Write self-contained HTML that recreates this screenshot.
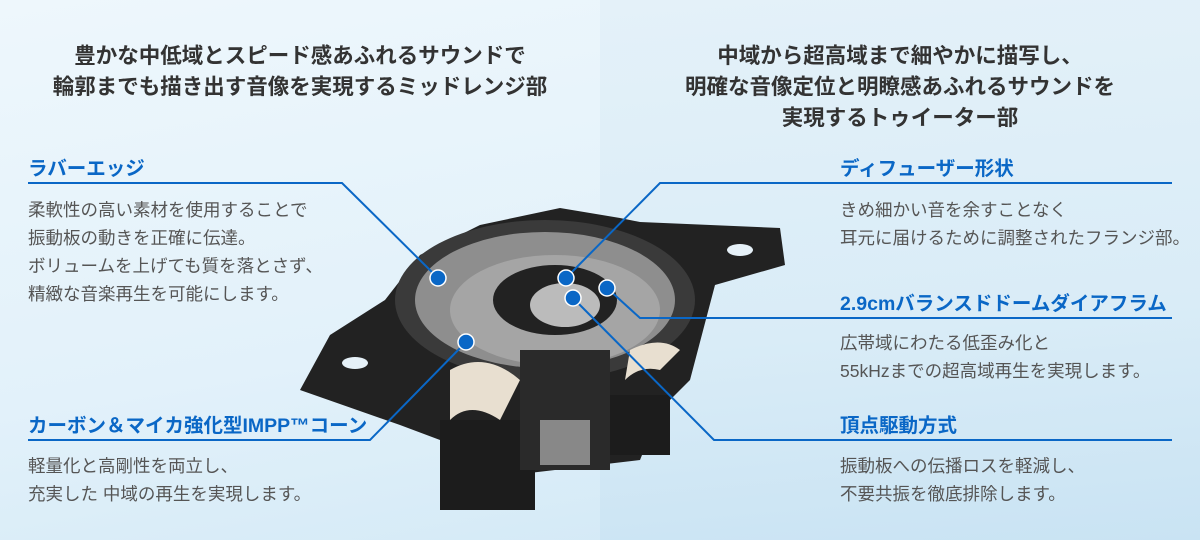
<!DOCTYPE html>
<html><head><meta charset="utf-8"><style>
body{margin:0;width:1200px;height:540px;overflow:hidden;font-family:"Liberation Sans","Noto Sans CJK JP",sans-serif;}
#bg{position:absolute;left:0;top:0;width:1200px;height:540px;background:linear-gradient(170deg,#eef7fc 0%,#e2f1fa 55%,#cfe7f5 100%);}
#rp{position:absolute;left:600px;top:0;width:600px;height:540px;background:linear-gradient(175deg,#e4f1f9 0%,#d9ecf7 60%,#c9e3f3 100%);}
.h{position:absolute;color:#333;font-weight:bold;font-size:21.5px;line-height:31px;text-align:center;}
.t{position:absolute;color:#0a67c6;font-weight:bold;font-size:19.5px;line-height:24px;}
.b{position:absolute;color:#555;font-size:17.5px;line-height:28px;}
svg{position:absolute;left:0;top:0}
</style></head><body>
<div id="bg"></div><div id="rp"></div>
<div class="h" style="left:0;width:600px;top:41px">豊かな中低域とスピード感あふれるサウンドで<br>輪郭までも描き出す音像を実現するミッドレンジ部</div>
<div class="h" style="left:600px;width:600px;top:41px">中域から超高域まで細やかに描写し、<br>明確な音像定位と明瞭感あふれるサウンドを<br>実現するトゥイーター部</div>
<svg width="1200" height="540">
<path d="M300,390 L330,335 L385,300 L420,255 L480,225 L560,208 L620,218 L640,222 L780,228 L785,265 L715,285 L690,380 L660,410 L640,460 L470,480 L440,440 L400,425 Z" fill="#222"/>
<ellipse cx="545" cy="300" rx="150" ry="80" fill="#3a3a3a"/>
<ellipse cx="545" cy="300" rx="130" ry="68" fill="#8e8e8e"/>
<ellipse cx="555" cy="310" rx="105" ry="55" fill="#a5a5a5"/>
<ellipse cx="555" cy="300" rx="62" ry="35" fill="#222"/>
<ellipse cx="565" cy="305" rx="35" ry="22" fill="#bbb"/>
<ellipse cx="740" cy="250" rx="13" ry="6" fill="#e6f1f8"/>
<ellipse cx="355" cy="363" rx="13" ry="6" fill="#e6f1f8"/>
<path d="M450,370 Q485,350 520,380 L500,420 Q470,400 450,420 Z" fill="#e8dfd0"/>
<path d="M630,350 Q660,335 680,350 L660,370 Q640,365 625,380 Z" fill="#e8dfd0"/>
<rect x="440" y="420" width="95" height="90" fill="#1c1c1c"/>
<rect x="600" y="395" width="70" height="60" fill="#1c1c1c"/>
<rect x="520" y="350" width="90" height="120" fill="#2a2a2a"/>
<rect x="540" y="420" width="50" height="45" fill="#888"/>
<g stroke="#0a67c6" stroke-width="2" fill="none">
<polyline points="28,183 342,183 438,278"/>
<polyline points="28,440 370,440 466,342"/>
<polyline points="1172,183 660,183 566,278"/>
<polyline points="1172,318 640,318 607,288"/>
<polyline points="1172,440 714,440 573,298"/>
</g>
<g fill="#0a67c6" stroke="#fff" stroke-width="1.5">
<circle cx="438" cy="278" r="8"/><circle cx="466" cy="342" r="8"/>
<circle cx="566" cy="278" r="8"/><circle cx="607" cy="288" r="8"/><circle cx="573" cy="298" r="8"/>
</g>
</svg>
<div class="t" style="left:28px;top:157px">ラバーエッジ</div>
<div class="b" style="left:28px;top:196px">柔軟性の高い素材を使用することで<br>振動板の動きを正確に伝達。<br>ボリュームを上げても質を落とさず、<br>精緻な音楽再生を可能にします。</div>
<div class="t" style="left:28px;top:414px">カーボン＆マイカ強化型IMPP™コーン</div>
<div class="b" style="left:28px;top:452px">軽量化と高剛性を両立し、<br>充実した 中域の再生を実現します。</div>
<div class="t" style="left:840px;top:157px">ディフューザー形状</div>
<div class="b" style="left:840px;top:196px">きめ細かい音を余すことなく<br>耳元に届けるために調整されたフランジ部。</div>
<div class="t" style="left:840px;top:292px">2.9cmバランスドドームダイアフラム</div>
<div class="b" style="left:840px;top:329px">広帯域にわたる低歪み化と<br>55kHzまでの超高域再生を実現します。</div>
<div class="t" style="left:840px;top:414px">頂点駆動方式</div>
<div class="b" style="left:840px;top:452px">振動板への伝播ロスを軽減し、<br>不要共振を徹底排除します。</div>
</body></html>
